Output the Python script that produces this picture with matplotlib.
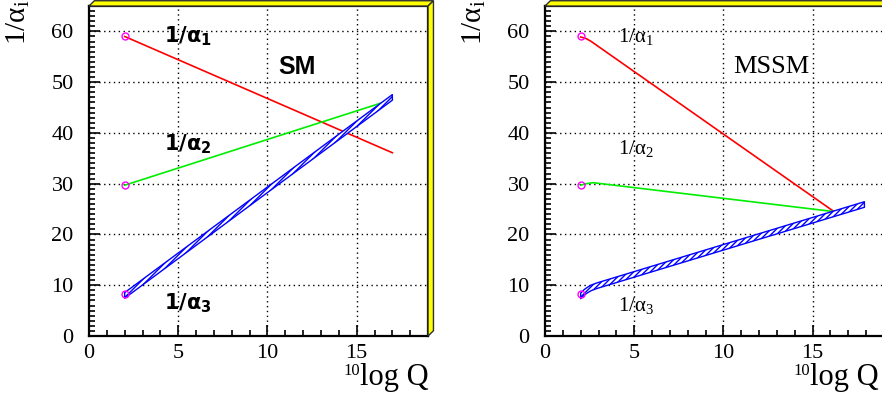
import matplotlib
matplotlib.use("Agg")
import matplotlib.pyplot as plt
import numpy as np
from matplotlib.patches import Polygon
from matplotlib.ticker import MultipleLocator

plt.rcParams['mathtext.fontset'] = 'custom'
plt.rcParams['mathtext.rm'] = 'Liberation Serif'
plt.rcParams['mathtext.it'] = 'Liberation Serif:italic'
plt.rcParams['mathtext.bf'] = 'Liberation Serif:bold'
plt.rcParams['hatch.linewidth'] = 1.0

# SM: one-loop running is a straight line in log Q
sm_x = [2.0, 17.0]
sm_inv_a1 = [59.0, 36.1]
sm_inv_a2 = [29.7, 46.6]
sm_inv_a3 = [8.0, 47.0]

# MSSM: bend at the susy threshold, then straight lines meeting near 10^16
mssm_x1 = [2.0, 2.3, 2.6, 2.8, 16.2]
mssm_inv_a1 = [58.9, 58.6, 58.0, 57.5, 24.5]
mssm_x2 = [2.0, 2.3, 2.7, 16.2]
mssm_inv_a2 = [29.7, 30.0, 30.2, 24.5]
mssm_x3 = [2.0, 2.2, 2.4, 2.6, 2.9, 17.9]
mssm_inv_a3 = [7.9, 8.6, 9.1, 9.5, 9.9, 25.9]

# measured values at M_Z
mz_x = [2.0, 2.0, 2.0]
mz_inv_a = [59.0, 29.7, 8.2]

band_err = 0.55

serif = 'Liberation Serif'


def frame_3d(ax, d=0.016):
    kw = dict(transform=ax.transAxes, facecolor='#ffff00', edgecolor='#303030',
              lw=1.0, clip_on=False, zorder=5)
    ax.add_patch(Polygon([(0, 1), (d, 1 + d), (1 + d, 1 + d), (1, 1)], **kw))
    ax.add_patch(Polygon([(1, 1), (1 + d, 1 + d), (1 + d, d), (1, 0)], **kw))


def style_axes(ax, xlab_pos=1.003):
    ax.set_xlim(0, 19)
    ax.set_ylim(0, 65)
    ax.xaxis.set_major_locator(MultipleLocator(5))
    ax.xaxis.set_minor_locator(MultipleLocator(1))
    ax.yaxis.set_major_locator(MultipleLocator(10))
    ax.yaxis.set_minor_locator(MultipleLocator(1))
    ax.tick_params(which='both', direction='in', top=False, right=False, width=1.2)
    ax.tick_params(which='major', length=8)
    ax.tick_params(which='minor', length=4)
    ax.tick_params(axis='x', pad=6)
    ax.tick_params(axis='y', pad=11)
    for lab in ax.get_xticklabels() + ax.get_yticklabels():
        lab.set_fontfamily(serif)
        lab.set_fontsize(16)
    for sp in ax.spines.values():
        sp.set_linewidth(1.6)
    ax.grid(True, which='major', color='black', linestyle=(0, (1, 2.5)), lw=1.0)
    ax.set_axisbelow(True)
    frame_3d(ax)

    lab = ax.text(xlab_pos, -0.148, 'log Q', transform=ax.transAxes, ha='right',
                  va='baseline', fontsize=22, family=serif)
    ax.annotate('10', xy=(0, 1), xycoords=lab, ha='right', va='top',
                fontsize=12, family=serif)
    ax.text(-0.168, 1.018, r'$1/\mathrm{\alpha}_{\mathrm{i}}$', transform=ax.transAxes,
            rotation=90, ha='right', va='top', fontsize=21)


def band(ax, x, y):
    x = np.asarray(x)
    y = np.asarray(y)
    ax.fill_between(x, y - band_err, y + band_err, facecolor='white',
                    edgecolor='#0000ff', hatch='//////', lw=1.0, zorder=3)


fig = plt.figure(figsize=(8.82, 3.93), dpi=100)
ax1 = fig.add_axes([0.1009, 0.145, 0.3844, 0.8397])
ax2 = fig.add_axes([0.6179, 0.145, 0.3844, 0.8397])

# SM panel
ax1.plot(sm_x, sm_inv_a1, color='#ff0000', lw=1.2, zorder=3)
ax1.plot(sm_x, sm_inv_a2, color='#00ee00', lw=1.2, zorder=3)
band(ax1, sm_x, sm_inv_a3)
ax1.plot(mz_x, mz_inv_a, 'o', ms=5, mfc='none', mec='#ff00ff', mew=1.0, zorder=4)
style_axes(ax1)

bold = dict(fontsize=15, math_fontfamily='dejavusans')
ax1.text(4.2, 57.8, r'$\mathbf{1/\alpha_1}$', **bold)
ax1.text(4.2, 36.6, r'$\mathbf{1/\alpha_2}$', **bold)
ax1.text(4.2, 5.3, r'$\mathbf{1/\alpha_3}$', **bold)
ax1.text(10.6, 51.7, 'SM', fontsize=18, fontweight='bold', family='Liberation Sans')

# MSSM panel
ax2.plot(mssm_x1, mssm_inv_a1, color='#ff0000', lw=1.2, zorder=3)
ax2.plot(mssm_x2, mssm_inv_a2, color='#00ee00', lw=1.2, zorder=3)
band(ax2, mssm_x3, mssm_inv_a3)
ax2.plot(mz_x, mz_inv_a, 'o', ms=5, mfc='none', mec='#ff00ff', mew=1.0, zorder=4)
style_axes(ax2, xlab_pos=0.985)

ax2.text(4.1, 58.0, r'$1/\mathrm{\alpha}_1$', fontsize=15)
ax2.text(4.1, 35.8, r'$1/\mathrm{\alpha}_2$', fontsize=15)
ax2.text(4.1, 5.0, r'$1/\mathrm{\alpha}_3$', fontsize=15)
ax2.text(10.56, 51.9, 'MSSM', fontsize=19, family=serif)

fig.savefig('out.png', dpi=100)
